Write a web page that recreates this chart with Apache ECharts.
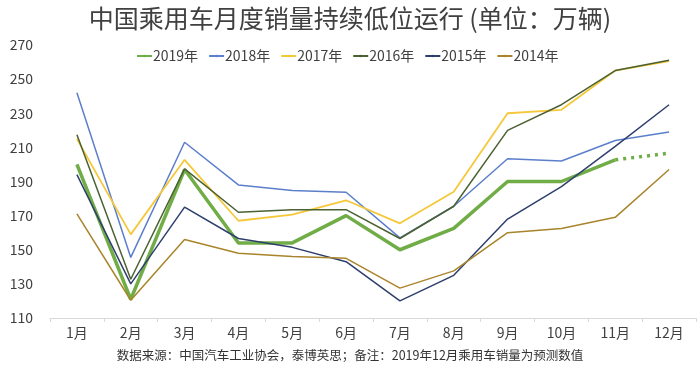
<!DOCTYPE html>
<html>
<head>
<meta charset="utf-8">
<script src="https://cdn.jsdelivr.net/npm/echarts@6/dist/echarts.min.js"></script>
<style>html,body{margin:0;padding:0;background:#fff;}#c{width:700px;height:368px;}</style>
</head>
<body>
<div id="c"></div>
<script>
var months = ['1月','2月','3月','4月','5月','6月','7月','8月','9月','10月','11月','12月'];
var yTicks = [110,130,150,170,190,210,230,250,270];
var s2019 = [200,121,197,154,154,170,150,162.5,190,190,202.7,null];
var s2019Forecast = [null,null,null,null,null,null,null,null,null,null,202.7,206.6];
var s2018 = [242,145.5,213,188,184.7,183.7,157,175.5,203.3,202,214,219];
var s2017 = [215,159,202.7,167,170.6,179,165.5,184,230,232,255,260.5];
var s2016 = [217.4,132.7,197.4,172,173.5,173.5,156.6,175.5,220,235,255,261];
var s2015 = [194,130,175,156.6,151.4,143,120,135,168,187,210.6,235];
var s2014 = [171,120.4,156,148,146,145,127.5,137.6,160,162.5,169,197];

var FONT = '"Noto Sans CJK SC", "Noto Sans", sans-serif';
var chart = echarts.init(document.getElementById('c'), null, {renderer: 'canvas'});
function line(name, data, color, width, dashed) {
  return {
    name: name, type: 'line', data: data, symbol: 'none', smooth: false,
    lineStyle: {color: color, width: width, type: dashed ? [3, 5] : 'solid'},
    itemStyle: {color: color},
    emphasis: {disabled: true}, animation: false
  };
}
chart.setOption({
  animation: false,
  textStyle: {fontFamily: FONT},
  title: {
    text: '中国乘用车月度销量持续低位运行 (单位：万辆)',
    left: 'center', top: 1,
    textStyle: {fontFamily: FONT, fontSize: 25, fontWeight: 'normal', color: '#404040'}
  },
  legend: {
    data: ['2019年','2018年','2017年','2016年','2015年','2014年'],
    left: 131, top: 44, itemWidth: 15, itemHeight: 3, itemGap: 10,
    textStyle: {fontFamily: FONT, fontSize: 14, color: '#404040', padding: [0,0,0,-4]}
  },
  graphic: [{
    type: 'text', left: 'center', top: 349,
    style: {text: '数据来源：中国汽车工业协会，泰博英思；备注：2019年12月乘用车销量为预测数值', fontFamily: FONT, fontSize: 12.5, fill: '#333'}
  }],
  grid: {left: 50, right: 4, top: 45, bottom: 50, containLabel: false},
  xAxis: {
    type: 'category', data: months, boundaryGap: true,
    axisLine: {lineStyle: {color: '#d9d9d9'}},
    axisTick: {show: true, lineStyle: {color: '#d9d9d9'}, length: 4},
    axisLabel: {fontFamily: FONT, fontSize: 14, color: '#404040', margin: 8}
  },
  yAxis: {
    type: 'value', min: yTicks[0], max: yTicks[yTicks.length - 1],
    axisLine: {show: false}, axisTick: {show: false}, splitLine: {show: false},
    axisLabel: {customValues: yTicks, fontFamily: FONT, fontSize: 14, color: '#404040', margin: 17}
  },
  series: [
    line('2019年', s2019, '#70AD47', 3.5),
    line('2019年预测', s2019Forecast, '#70AD47', 3.5, true),
    line('2018年', s2018, '#5B7FCB', 1.5),
    line('2017年', s2017, '#F5C83A', 1.8),
    line('2016年', s2016, '#4B6132', 1.5),
    line('2015年', s2015, '#2E3F6E', 1.5),
    line('2014年', s2014, '#A8852A', 1.5)
  ]
});
</script>
</body>
</html>
